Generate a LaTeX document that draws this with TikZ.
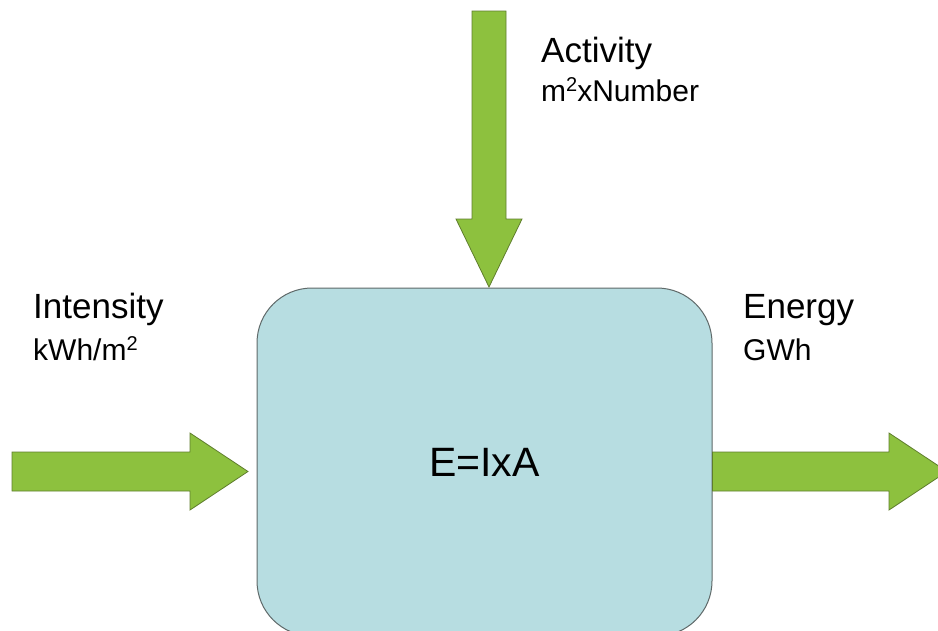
\documentclass[tikz,border=0pt]{standalone}
\usepackage{fontspec}
\setmainfont{Liberation Sans}
\usetikzlibrary{arrows.meta}
\definecolor{flowgreen}{RGB}{141,193,62}
\definecolor{flowedge}{RGB}{95,125,45}
\definecolor{boxblue}{RGB}{183,221,225}
\definecolor{boxedge}{RGB}{95,105,105}
\newcommand{\sq}{\raisebox{0.32em}{\fontsize{20}{20}\selectfont 2}}

\begin{document}
\begin{tikzpicture}[x=1pt,y=-1pt,
  flow/.style={fill=flowgreen,draw=flowedge,line width=0.8pt},
  big/.style={font=\fontsize{35}{40}\selectfont,inner sep=0pt,anchor=base west},
  small/.style={font=\fontsize{30}{34}\selectfont,inner sep=0pt,anchor=base west}]
\useasboundingbox (0,0) rectangle (938,630);
\clip (0,0) rectangle (938,630);

% the model
\node[draw=boxedge,fill=boxblue,line width=1pt,rounded corners=55pt,
  minimum width=455pt,minimum height=348pt,
  font=\fontsize{41}{46}\selectfont] (calc) at (484.5,462) {E=IxA};

% activity in from the top
\coordinate (acttip) at (489,287);
\draw[flow] (472,11) -- (506,11) -- (506,219) -- (522,219) -- (acttip)
  -- (456,219) -- (472,219) -- cycle;
\node[big] (act) at (541,62) {Activity};
\node[small] (actunit) at (541,101) {m\sq xNumber};

% intensity in from the left
\coordinate (inttip) at (248,471.5);
\draw[flow] (12,452) -- (190,452) -- (190,433) -- (inttip)
  -- (190,510) -- (190,491) -- (12,491) -- cycle;
\node[big] (int) at (33,318) {Intensity};
\node[small] (intunit) at (33,360) {kWh/m\sq};

% energy out to the right
\coordinate (entip) at (947,471.5);
\draw[flow] (calc.east |- 0,452) -- (889,452) -- (889,433) -- (entip)
  -- (889,510) -- (889,491) -- (calc.east |- 0,491) -- cycle;
\node[big] (en) at (743,318) {Energy};
\node[small] (enunit) at (743,360) {GWh};
\end{tikzpicture}
\end{document}
